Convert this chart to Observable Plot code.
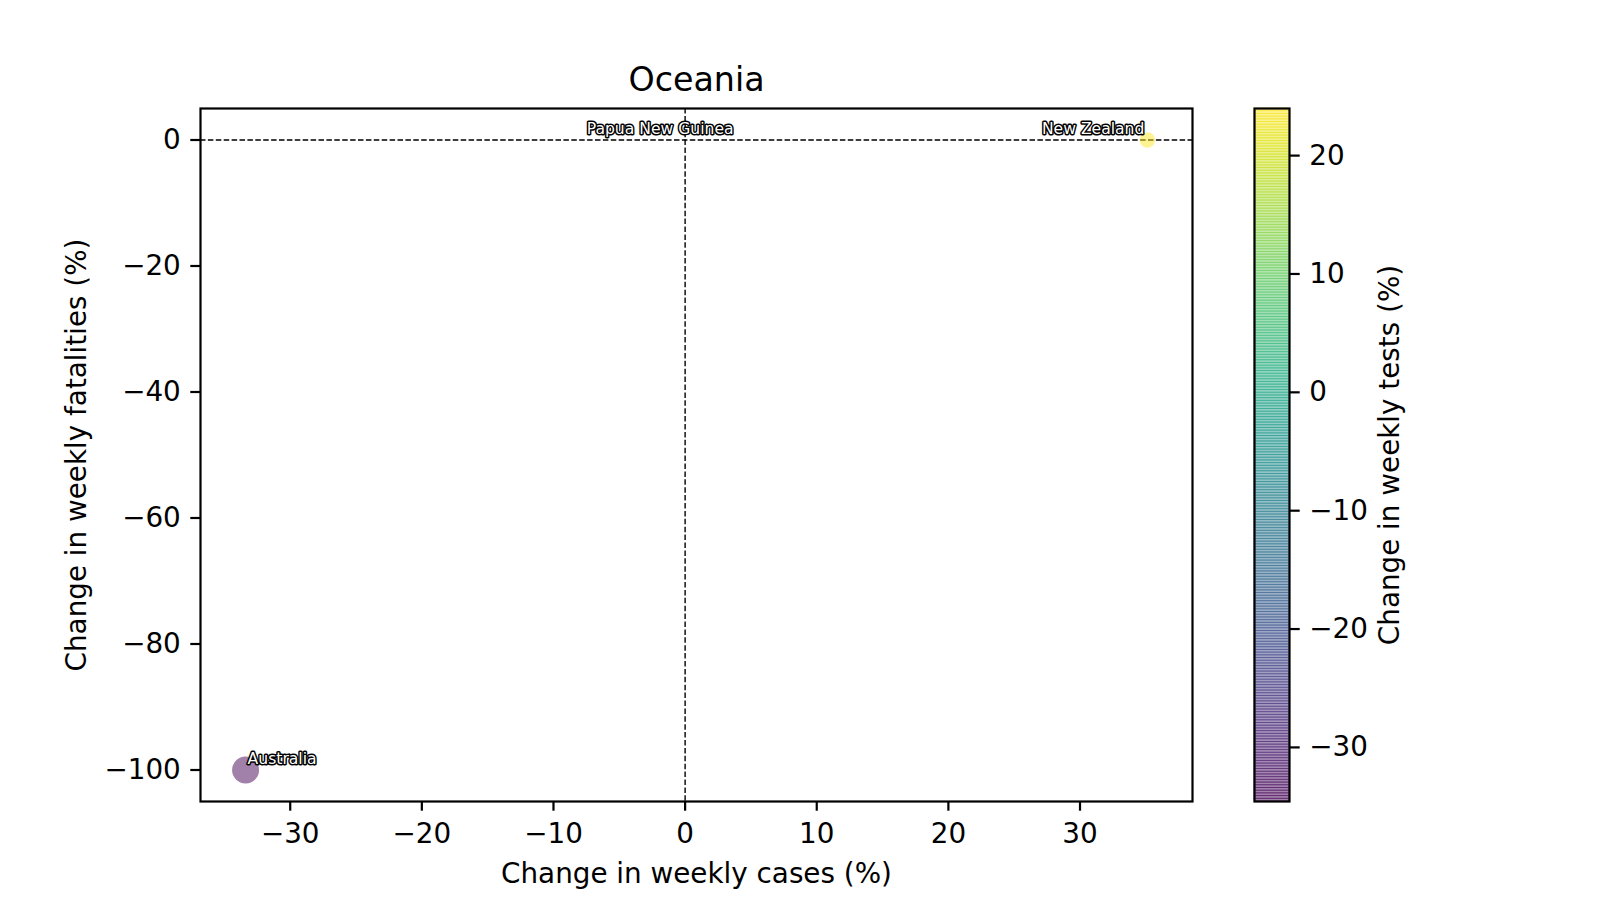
<!DOCTYPE html>
<html><head><meta charset="utf-8">
<script src="https://cdn.jsdelivr.net/npm/d3@7"></script>
<script src="https://cdn.jsdelivr.net/npm/@observablehq/plot@0.6"></script>
<style>
html,body{margin:0;padding:0;background:white;}
#wrap{position:relative;width:1600px;height:900px;overflow:hidden;background:white;}
#wrap svg{position:absolute;top:0;}
</style></head><body><div id="wrap"></div>
<script>
// ---- data ----
const countries = ["Australia", "Papua New Guinea", "New Zealand"];
const casesChange = [-33.39, 0, 35.12];        // Change in weekly cases (%)
const fatalitiesChange = [-100, 0, 0];         // Change in weekly fatalities (%)
const testsChange = [-34.57, null, 23.98];     // Change in weekly tests (%)
const markerSize = [94, null, 31];             // marker area
const xTicks = [-30, -20, -10, 0, 10, 20, 30];
const yTicks = [-100, -80, -60, -40, -20, 0];
const colorTicks = [-30, -20, -10, 0, 10, 20];
const titleText = "Oceania";
const xLabel = "Change in weekly cases (%)";
const yLabel = "Change in weekly fatalities (%)";
const cLabel = "Change in weekly tests (%)";

// ---- chart ----
const data = countries.map((c, i) => ({country: c, x: casesChange[i], y: fatalitiesChange[i], t: testsChange[i], s: markerSize[i]}));
const pad = ([a, b]) => [a - (b - a) * 0.05, b + (b - a) * 0.05];
const xDom = pad(d3.extent(casesChange));
const yDom = pad(d3.extent(fatalitiesChange));
const cDom = d3.extent(testsChange.filter(v => v != null));
const colorOpts = {type: "linear", scheme: "viridis", domain: cDom};
const font = "DejaVu Sans";
const baseStyle = {fontFamily: font, fontSize: "27.8px", color: "black", background: "white"};
const dash = {stroke: "black", strokeWidth: 1.4, strokeDasharray: "5.5,2.4"};
const labelStyle = {
  "Australia": {textAnchor: "start", dx: 2},
  "Papua New Guinea": {textAnchor: "middle", dx: -25},
  "New Zealand": {textAnchor: "end", dx: -3}
};

const main = Plot.plot({
  width: 1200, height: 900,
  marginLeft: 200, marginRight: 8, marginTop: 108, marginBottom: 99,
  style: baseStyle,
  x: {domain: xDom},
  y: {domain: yDom},
  color: colorOpts,
  r: {domain: [0, d3.max(markerSize)], range: [0, 13.5]},
  marks: [
    Plot.ruleY([0], dash),
    Plot.ruleX([0], dash),
    Plot.dot(data.filter(d => d.t != null), {x: "x", y: "y", fill: "t", r: "s", fillOpacity: 0.5}),
    ...data.map(d => Plot.text([d], {
      x: "x", y: "y", text: "country", ...labelStyle[d.country],
      dy: -11, lineAnchor: "middle", fontSize: 15.6,
      fill: "white", stroke: "black", strokeWidth: 3, strokeLinejoin: "round"
    })),
    Plot.frame({stroke: "black", strokeWidth: 2.2}),
    Plot.axisX({ticks: xTicks, tickSize: 9.7, tickPadding: 12, strokeWidth: 2.2, label: null}),
    Plot.axisY({ticks: yTicks, tickSize: 9.7, tickPadding: 10, strokeWidth: 2.2, label: null}),
    Plot.text([xLabel], {frameAnchor: "bottom", dy: 73, lineAnchor: "middle", fontSize: 27.8}),
    Plot.text([yLabel], {frameAnchor: "left", dx: -123.5, rotate: -90, textAnchor: "middle", lineAnchor: "middle", fontSize: 27.8}),
    Plot.text([titleText], {frameAnchor: "top", dy: -28, lineAnchor: "middle", fontSize: 33.3})
  ]
});
main.style.left = "0px";

const nSteps = 256;
const [c0, c1] = cDom;
const steps = d3.range(nSteps).map(i => ({lo: c0 + (c1 - c0) * i / nSteps, hi: c0 + (c1 - c0) * (i + 1) / nSteps}));

const cb = Plot.plot({
  width: 400, height: 900,
  marginLeft: 54, marginRight: 311, marginTop: 108, marginBottom: 99,
  style: baseStyle,
  x: {domain: [0, 1], axis: null},
  y: {domain: cDom},
  color: colorOpts,
  marks: [
    Plot.rect(steps, {x1: 0, x2: 1, y1: "lo", y2: "hi", fill: d => (d.lo + d.hi) / 2, fillOpacity: 0.5,
      stroke: d => (d.lo + d.hi) / 2, strokeOpacity: 0.5, strokeWidth: 0.9}),
    Plot.frame({stroke: "black", strokeWidth: 2.2}),
    Plot.axisY({anchor: "right", ticks: colorTicks, tickSize: 9.7, tickPadding: 10, strokeWidth: 2.2, label: null}),
    Plot.text([cLabel], {frameAnchor: "right", dx: 101, rotate: -90, textAnchor: "middle", lineAnchor: "middle", fontSize: 27.8})
  ]
});
cb.style.left = "1200px";

const wrap = document.getElementById("wrap");
wrap.appendChild(main);
wrap.appendChild(cb);
</script>
</body></html>
